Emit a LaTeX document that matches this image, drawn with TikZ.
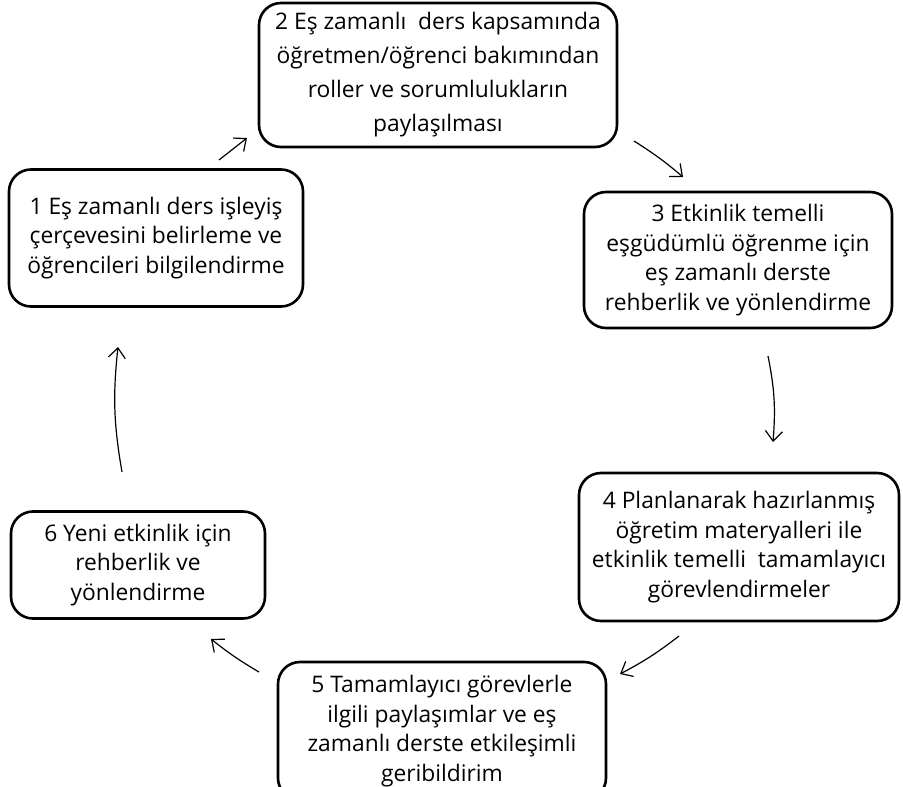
\documentclass[tikz,border=0pt]{standalone}
\usepackage{fontspec}
\setmainfont{Open Sans}
\usepackage{tikz}
\usetikzlibrary{arrows.meta}
\usetikzlibrary{positioning}

\begin{document}
\begin{tikzpicture}[x=1pt, y=-1pt,
  box/.style={draw, line width=2.6pt, rounded corners=22pt, align=center, inner sep=0pt,
    font=\fontsize{22.8}{29.5}\selectfont},
  wide/.style={font=\fontsize{22.8}{34}\selectfont},
  flow/.style={line width=1.2pt, -{Straight Barb[length=10pt,width=17pt,line width=1.2pt]}}]
\useasboundingbox (0,0) rectangle (903,787);

\node (b1) at (156,238) [box, minimum width=294pt, minimum height=137pt] {1 Eş zamanlı ders işleyiş\\çerçevesini belirleme ve\\öğrencileri bilgilendirme};
\node (b2) at (438,75) [box, wide, minimum width=358pt, minimum height=144pt] {2 Eş zamanlı\ \ ders kapsamında\\öğretmen/öğrenci bakımından\\roller ve sorumlulukların\\paylaşılması};
\node (b3) at (738,260) [box, minimum width=308pt, minimum height=136pt] {3 Etkinlik temelli\\eşgüdümlü öğrenme için\\eş zamanlı derste\\rehberlik ve yönlendirme};
\node (b4) at (739,547) [box, minimum width=320pt, minimum height=148pt] {4 Planlanarak hazırlanmış\\öğretim materyalleri ile\\etkinlik temelli\ \ tamamlayıcı\\görevlendirmeler};
\node (b5) at (442,731) [box, minimum width=328pt, minimum height=138pt] {5 Tamamlayıcı görevlerle\\ilgili paylaşımlar ve eş\\zamanlı derste etkileşimli\\geribildirim};
\node (b6) at (138,565) [box, minimum width=254pt, minimum height=107pt] {6 Yeni etkinlik için\\rehberlik ve\\yönlendirme};

%arrow ends
\coordinate (a1) at (219,160);
\coordinate (a2) at (247,138);
\coordinate (a3) at (634,141);
\coordinate (a4) at (683,177);
\coordinate (a5) at (768,356);
\coordinate (a6) at (773,442);
\coordinate (a7) at (679,636);
\coordinate (a8) at (620,674);
\coordinate (a9) at (259,672);
\coordinate (a10) at (211,639);
\coordinate (a11) at (122,472);
\coordinate (a12) at (118,347);

\draw [flow] (a1) -- (a2);
\draw [flow] (a3) to[bend left=4] (a4);
\draw [flow] (a5) to[bend left=8] (a6);
\draw [flow] (a7) to[bend left=5] (a8);
\draw [flow] (a9) to[bend left=4] (a10);
\draw [flow] (a11) to[bend left=8] (a12);
\end{tikzpicture}
\end{document}
